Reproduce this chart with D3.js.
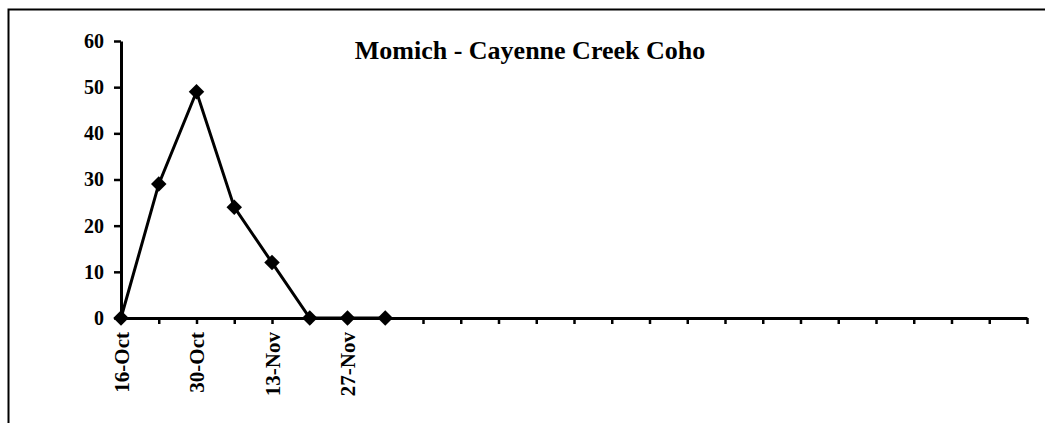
<!DOCTYPE html>
<html>
<head>
<meta charset="utf-8">
<script src="https://cdn.jsdelivr.net/npm/d3@7"></script>
<style>
  body { margin: 0; background: #fff; }
  svg { display: block; }
</style>
</head>
<body>
<svg id="chart" width="1045" height="423"></svg>
<script>
// survey dates (weekly) and fish counts
const dates = ["16-Oct", "23-Oct", "30-Oct", "6-Nov", "13-Nov", "20-Nov", "27-Nov", "4-Dec"];
const counts = [0, 29, 49, 24, 12, 0, 0, 0];
const shownLabels = ["16-Oct", "30-Oct", "13-Nov", "27-Nov"];
const yTicks = [0, 10, 20, 30, 40, 50, 60];
const title = "Momich - Cayenne Creek Coho";

const parse = d => d3.timeParse("%d-%b-%Y")(d + "-2001");
const fmt = d3.timeFormat("%-d-%b");
const pts = dates.map((d, i) => ({ date: parse(d), value: counts[i] }));

const start = pts[0].date;
const end = d3.timeDay.offset(start, 24 * 7);

const svg = d3.select("#chart");
const font = "'Liberation Serif', 'Times New Roman', serif";

// outer frame (right and bottom run off the picture)
svg.append("rect")
    .attr("x", 8.5).attr("y", 9.5)
    .attr("width", 1100).attr("height", 500)
    .attr("fill", "none").attr("stroke", "#000").attr("stroke-width", 2);

const x = d3.scaleTime().domain([start, end]).range([121, 1027]);
const y = d3.scaleLinear().domain([0, 60]).range([318, 41]);

const xAxis = svg.append("g")
    .attr("transform", `translate(0,${y(0)})`)
    .call(d3.axisBottom(x)
        .tickValues(d3.timeDay.range(start, d3.timeDay.offset(end, 1), 7))
        .tickFormat(d => shownLabels.includes(fmt(d)) ? fmt(d) : "")
        .tickSizeInner(6).tickSizeOuter(0));
xAxis.select(".domain").attr("stroke-width", 3);
xAxis.selectAll(".tick line").attr("stroke-width", 2.5);
xAxis.selectAll(".tick text")
    .attr("transform", "rotate(-90)")
    .attr("text-anchor", "end")
    .attr("x", -14).attr("y", 0).attr("dy", "0.35em")
    .style("font", `bold 21px ${font}`);

const yAxis = svg.append("g")
    .attr("transform", `translate(${x(start)},0)`)
    .call(d3.axisLeft(y).tickValues(yTicks).tickSizeInner(7).tickSizeOuter(0).tickPadding(10));
yAxis.select(".domain").attr("stroke-width", 3);
yAxis.selectAll(".tick line").attr("stroke-width", 2.5);
yAxis.selectAll(".tick text").style("font", `bold 20px ${font}`);

const line = d3.line().x(d => x(d.date)).y(d => y(d.value));
svg.append("path")
    .datum(pts)
    .attr("d", line)
    .attr("fill", "none").attr("stroke", "#000").attr("stroke-width", 3);

svg.append("g").selectAll("path")
    .data(pts).enter().append("path")
    .attr("d", d3.symbol(d3.symbolSquare, 120))
    .attr("transform", d => `translate(${x(d.date)},${y(d.value)}) rotate(45)`)
    .attr("fill", "#000");

svg.append("text")
    .attr("x", 530).attr("y", 59)
    .attr("text-anchor", "middle")
    .style("font", `bold 26px ${font}`)
    .text(title);
</script>
</body>
</html>
